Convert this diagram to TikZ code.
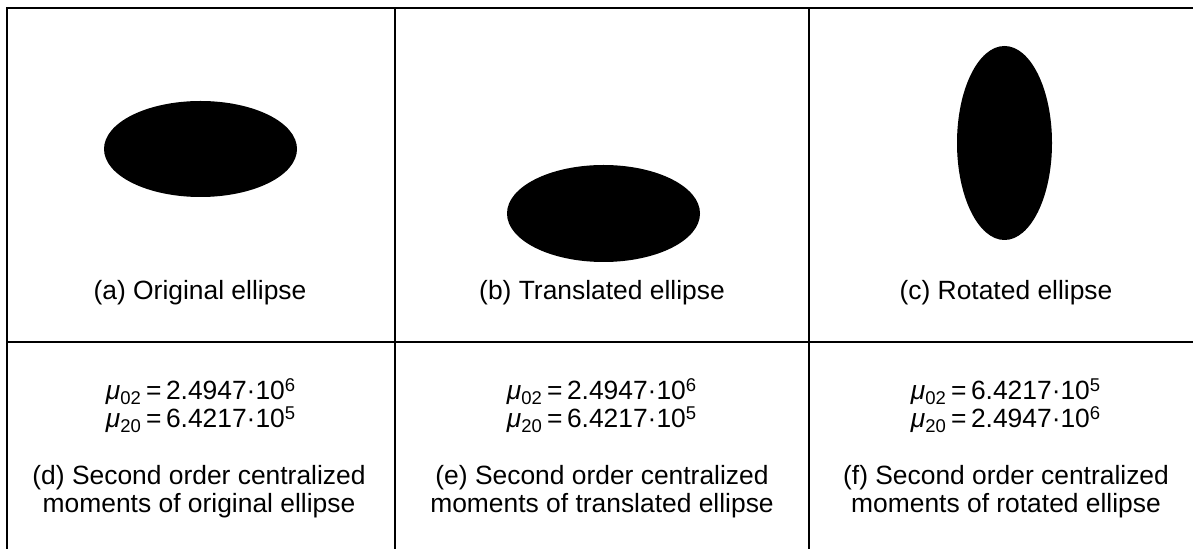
\documentclass[tikz,border=0pt]{standalone}
\usepackage{fontspec}
\setmainfont{Liberation Sans}
\newcommand{\mumom}[3]{{\itshape μ}\textsubscript{#1}\,=\,#2·10\textsuperscript{#3}}
\begin{document}
\begin{tikzpicture}[x=0.5pt,y=-0.5pt,
  rule/.style={line width=0.85pt, black},
  blob/.style={fill=black},
  lbl/.style={font=\fontsize{13.2}{14}\selectfont, inner sep=0pt, anchor=base}]
\useasboundingbox (0,0) rectangle (1193,549);
% grid
\coordinate (c0t) at (7,8);
\coordinate (c0b) at (7,549);
\coordinate (c1t) at (395,8);
\coordinate (c1b) at (395,549);
\coordinate (c2t) at (809,8);
\coordinate (c2b) at (809,549);
\coordinate (rt) at (1193,8);
\coordinate (ml) at (7,342);
\coordinate (mr) at (1193,342);
\draw[rule] (c0b) -- (c0t) -- (rt);
\draw[rule] (c1t) -- (c1b);
\draw[rule] (c2t) -- (c2b);
\draw[rule] (ml) -- (mr);
% ellipses
\fill[blob] (200.5,149) ellipse [x radius=96.5, y radius=48];
\fill[blob] (603.5,213.5) ellipse [x radius=96.5, y radius=48.5];
\fill[blob] (1004.5,143) ellipse [x radius=47.5, y radius=97];
% captions
\node[lbl] (ca) at (200,300) {(a) Original ellipse};
\node[lbl] (cb) at (602,300) {(b) Translated ellipse};
\node[lbl] (cc) at (1006,300) {(c) Rotated ellipse};
\node[lbl] (ma1) at (201,400) {\mumom{02}{2.4947}{6}};
\node[lbl] (ma2) at (201,428) {\mumom{20}{6.4217}{5}};
\node[lbl] (mb1) at (602,400) {\mumom{02}{2.4947}{6}};
\node[lbl] (mb2) at (602,428) {\mumom{20}{6.4217}{5}};
\node[lbl] (mc1) at (1006,400) {\mumom{02}{6.4217}{5}};
\node[lbl] (mc2) at (1006,428) {\mumom{20}{2.4947}{6}};
\node[lbl] (da1) at (199,485) {(d) Second order centralized};
\node[lbl] (da2) at (199,513) {moments of original ellipse};
\node[lbl] (db1) at (602,485) {(e) Second order centralized};
\node[lbl] (db2) at (602,513) {moments of translated ellipse};
\node[lbl] (dc1) at (1006,485) {(f) Second order centralized};
\node[lbl] (dc2) at (1006,513) {moments of rotated ellipse};
\end{tikzpicture}
\end{document}
